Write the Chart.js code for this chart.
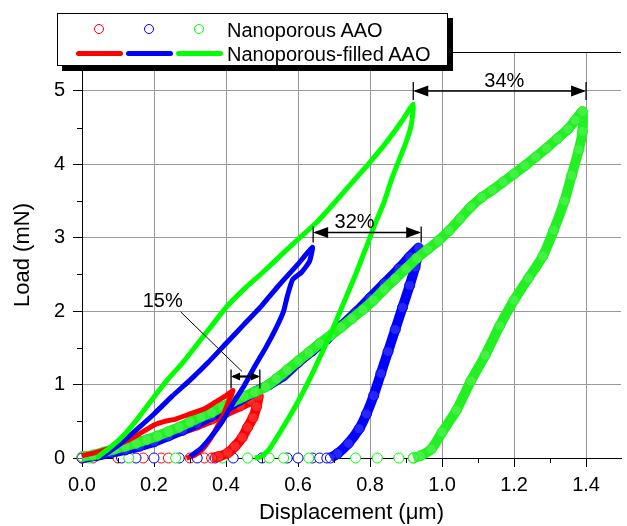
<!DOCTYPE html>
<html>
<head>
<meta charset="utf-8">
<script src="https://cdn.jsdelivr.net/npm/chart.js@4.4.0/dist/chart.umd.min.js"></script>
<style>
body{margin:0;background:#fff;font-family:"Liberation Sans",Arial,sans-serif;}
#wrap{position:relative;width:627px;height:526px;}
#legend{position:absolute;left:57px;top:13px;width:389px;height:51px;border:1.5px solid #000;background:#fff;box-shadow:5px 5px 0 #000;}
.dot{position:absolute;top:10px;width:8px;height:8px;border:1px solid;border-radius:50%;}
.seg{position:absolute;top:37px;height:5px;width:47px;border-radius:3px;}
.lt{position:absolute;left:169px;font-size:20px;line-height:24px;color:#000;white-space:nowrap;}
</style>
</head>
<body>
<div id="wrap">
<canvas id="LoadChart"></canvas>
<div id="legend">
	<div class="dot" style="left:36px;border-color:#f00"></div>
	<div class="dot" style="left:86px;border-color:#00f"></div>
	<div class="dot" style="left:136px;border-color:#0f0"></div>
	<div class="lt" style="top:4px">Nanoporous AAO</div>
	<div class="seg" style="left:18px;background:#f00"></div>
	<div class="seg" style="left:68px;background:#00f"></div>
	<div class="seg" style="left:118px;background:#0f0"></div>
	<div class="lt" style="top:28px">Nanoporous-filled AAO</div>
</div>
</div>
<script>
// axis ticks
var xTicks = [0.0,0.2,0.4,0.6,0.8,1.0,1.2,1.4];
var xMinor = [0.1,0.3,0.5,0.7,0.9,1.1,1.3];
var yTicks = [0,1,2,3,4,5];
var yMinor = [0.5,1.5,2.5,3.5,4.5];

// Nanoporous-filled AAO (solid lines), [displacement um, load mN]
var filledRed = [[0.0,0.03],[0.05,0.09],[0.1,0.18],[0.15,0.3],[0.2,0.45],[0.23,0.5],[0.26,0.53],[0.3,0.6],[0.34,0.67],[0.37,0.76],[0.4,0.85],[0.42,0.92],
	[0.41,0.8],[0.395,0.62],[0.375,0.42],[0.355,0.25],[0.335,0.12],[0.31,0.03],[0.29,0.0]];
var filledBlue = [[0.05,0.0],[0.1,0.17],[0.15,0.38],[0.2,0.6],[0.25,0.84],[0.3,1.06],[0.35,1.3],[0.4,1.56],[0.45,1.82],[0.5,2.08],[0.55,2.37],[0.6,2.64],[0.64,2.87],
	[0.632,2.68],[0.61,2.53],[0.585,2.43],[0.57,2.2],[0.56,2.0],[0.54,1.78],[0.51,1.5],[0.48,1.25],[0.45,0.98],[0.42,0.75],[0.39,0.5],[0.36,0.3],[0.33,0.13],[0.3,0.02]];
var filledGreen = [[0.04,0.0],[0.08,0.15],[0.12,0.33],[0.16,0.57],[0.2,0.83],[0.24,1.08],[0.28,1.3],[0.32,1.55],[0.36,1.8],[0.4,2.05],[0.45,2.3],[0.5,2.52],[0.55,2.75],[0.6,2.98],[0.65,3.2],[0.7,3.47],[0.75,3.75],[0.8,4.03],[0.85,4.33],[0.89,4.6],[0.92,4.82],
	[0.915,4.55],[0.9,4.3],[0.88,4.05],[0.86,3.8],[0.84,3.5],[0.815,3.2],[0.79,2.88],[0.76,2.5],[0.73,2.15],[0.7,1.8],[0.67,1.47],[0.63,1.05],[0.59,0.68],[0.55,0.35],[0.52,0.12],[0.5,0.02],[0.48,0.0]];

// Nanoporous AAO (open circles)
var poreRed = [[0.0,0.0],[0.04,0.04],[0.08,0.1],[0.12,0.16],[0.16,0.22],[0.2,0.27],[0.24,0.32],[0.28,0.38],[0.32,0.45],[0.36,0.53],[0.4,0.62],[0.44,0.71],[0.47,0.78],[0.49,0.84],
	[0.485,0.7],[0.475,0.55],[0.46,0.42],[0.445,0.28],[0.425,0.16],[0.405,0.07],[0.38,0.02],[0.36,0.0]];
var poreBlue = [[0.0,0.0],[0.04,0.03],[0.08,0.07],[0.12,0.11],[0.16,0.16],[0.2,0.22],[0.24,0.3],[0.28,0.38],[0.32,0.47],[0.36,0.57],[0.4,0.68],[0.44,0.79],[0.48,0.9],[0.52,1.0],[0.56,1.12],[0.6,1.3],[0.64,1.46],[0.68,1.62],[0.72,1.8],[0.76,1.98],[0.8,2.18],[0.84,2.38],[0.88,2.58],[0.91,2.74],[0.935,2.86],
	[0.925,2.6],[0.91,2.35],[0.89,2.05],[0.87,1.75],[0.85,1.45],[0.83,1.15],[0.81,0.85],[0.79,0.6],[0.77,0.4],[0.74,0.2],[0.71,0.06],[0.69,0.0]];
var poreGreen = [[0.0,0.02],[0.03,0.04],[0.06,0.08],[0.09,0.12],[0.12,0.16],[0.15,0.2],[0.18,0.25],[0.21,0.3],[0.24,0.36],[0.27,0.42],[0.3,0.49],[0.33,0.56],[0.36,0.62],[0.39,0.7],[0.42,0.77],[0.45,0.84],[0.48,0.9],[0.51,0.97],[0.54,1.08],[0.57,1.2],[0.6,1.32],[0.63,1.44],[0.66,1.56],[0.69,1.67],[0.72,1.78],[0.75,1.9],[0.78,2.02],[0.81,2.15],[0.84,2.3],[0.87,2.44],[0.9,2.58],[0.93,2.72],[0.96,2.84],[0.99,2.96],[1.02,3.1],[1.05,3.26],[1.08,3.42],[1.11,3.55],[1.14,3.65],[1.17,3.76],[1.2,3.87],[1.23,3.98],[1.26,4.1],[1.29,4.22],[1.32,4.35],[1.35,4.48],[1.37,4.6],[1.39,4.72],
	[1.39,4.45],[1.38,4.2],[1.36,3.85],[1.34,3.5],[1.31,3.1],[1.28,2.75],[1.24,2.45],[1.2,2.15],[1.16,1.8],[1.12,1.4],[1.08,1.05],[1.04,0.65],[1.0,0.35],[0.97,0.12],[0.94,0.03],[0.92,0.0]];

// circles lying on the zero-load line
var baseRed = [0.03,0.1,0.17,0.22,0.24,0.3,0.34];
var baseBlue = [0.11,0.15,0.2,0.27,0.32,0.37,0.42,0.5,0.57,0.6,0.64,0.66,0.68];
var baseGreen = [0.02,0.13,0.26,0.39,0.46,0.52,0.56,0.63,0.76,0.82,0.88,0.92];

// percentage spans
var spanText = ['15%','32%','34%'];
var spanFrom = [0.414,0.642,0.92];
var spanTo = [0.494,0.942,1.40];
var spanLoad = [1.11,3.07,5.0];


function pts(arr){ return arr.map(p => ({x:p[0], y:p[1]})); }
function basePts(arr){ return arr.map(v => ({x:v, y:0})); }

function lineSet(name, arr, col, ord){
	return {label:name, data:pts(arr), showLine:true, borderColor:col, borderWidth:5, tension:0.15,
		pointRadius:0, order:ord, clip:false};
}
function bandSet(name, arr, col, ord){
	return {label:name, data:pts(arr), showLine:true, borderColor:col, borderWidth:10, tension:0.2,
		pointRadius:5, pointBorderWidth:1, pointBorderColor:col, pointBackgroundColor:'rgba(255,255,255,0.15)', order:ord, clip:false};
}
function baseSet(name, arr, col, ord){
	return {label:name, data:basePts(arr), showLine:false, pointRadius:5, pointBorderWidth:1,
		pointBorderColor:col, pointBackgroundColor:'#fff', order:ord, clip:false};
}

function spanArrow(ctx, x1, x2, y, head, half, up, down, lw){
	ctx.lineWidth = lw;
	ctx.beginPath(); ctx.moveTo(x1+2, y); ctx.lineTo(x2-2, y); ctx.stroke();
	ctx.lineWidth = 1.3;
	ctx.beginPath();
	ctx.moveTo(x1, y-up); ctx.lineTo(x1, y+down);
	ctx.moveTo(x2, y-up); ctx.lineTo(x2, y+down);
	ctx.stroke();
	ctx.beginPath();
	ctx.moveTo(x1, y); ctx.lineTo(x1+head, y-half); ctx.lineTo(x1+head, y+half); ctx.closePath();
	ctx.moveTo(x2, y); ctx.lineTo(x2-head, y-half); ctx.lineTo(x2-head, y+half); ctx.closePath();
	ctx.fill();
}

var extras = {
	id: 'extras',
	afterDraw: function(chart){
		var ctx = chart.ctx, xs = chart.scales.x, ys = chart.scales.y, a = chart.chartArea;
		ctx.save();
		ctx.strokeStyle = '#000'; ctx.fillStyle = '#000'; ctx.lineWidth = 1;
		ctx.beginPath();
		ctx.moveTo(a.left, a.top+0.5); ctx.lineTo(a.right, a.top+0.5);
		for(let v of xMinor){ let px = Math.round(xs.getPixelForValue(v))+0.5; ctx.moveTo(px, a.bottom); ctx.lineTo(px, a.bottom+5); }
		for(let v of yMinor){ let py = Math.round(ys.getPixelForValue(v))+0.5; ctx.moveTo(a.left, py); ctx.lineTo(a.left-5, py); }
		ctx.stroke();

		// span arrows
		var sizes = [[9,4,7,12,2.2],[15,5.5,6,10,1.5],[15,5.5,9,9,1.5]];
		for(let i=0; i<3; i++){
			let s = sizes[i];
			spanArrow(ctx, xs.getPixelForValue(spanFrom[i]), xs.getPixelForValue(spanTo[i]), ys.getPixelForValue(spanLoad[i]), s[0], s[1], s[2], s[3], s[4]);
		}
		// leader for 15%
		ctx.lineWidth = 1;
		ctx.beginPath();
		ctx.moveTo(xs.getPixelForValue(0.274), ys.getPixelForValue(1.99));
		ctx.lineTo(xs.getPixelForValue(0.444), ys.getPixelForValue(1.18));
		ctx.stroke();

		ctx.font = '20px "Liberation Sans", Arial, sans-serif';
		ctx.textAlign = 'center'; ctx.textBaseline = 'middle';
		ctx.fillText(spanText[0], xs.getPixelForValue(0.224), ys.getPixelForValue(2.13));
		ctx.fillText(spanText[1], xs.getPixelForValue(0.757), ys.getPixelForValue(3.21));
		ctx.fillText(spanText[2], xs.getPixelForValue(1.173), ys.getPixelForValue(5.13));
		ctx.restore();
	}
};

var tickFont = {family:'"Liberation Sans", Arial, sans-serif', size:20};
var titleFont = {family:'"Liberation Sans", Arial, sans-serif', size:22};

new Chart(document.getElementById('LoadChart'), {
	type: 'scatter',
	data: {
		datasets: [
			lineSet('Nanoporous-filled AAO', filledGreen, '#00ff00', 1),
			lineSet('Nanoporous-filled AAO', filledBlue, '#0000ff', 2),
			lineSet('Nanoporous-filled AAO', filledRed, '#ff0000', 3),
			bandSet('Nanoporous AAO', poreGreen, '#22f022', 4),
			bandSet('Nanoporous AAO', poreBlue, '#0000ff', 5),
			bandSet('Nanoporous AAO', poreRed, '#ff0000', 6),
			baseSet('Nanoporous AAO', baseGreen, '#00ff00', 7),
			baseSet('Nanoporous AAO', baseBlue, '#0000ff', 8),
			baseSet('Nanoporous AAO', baseRed, '#ff0000', 9)
		]
	},
	options: {
		responsive: true,
		maintainAspectRatio: false,
		animation: false,
		layout: {padding: {top: 52, right: 0, left: 0, bottom: 0}},
		plugins: {legend: {display: false}, tooltip: {enabled: false}},
		scales: {
			x: {
				type: 'linear', min: 0, max: 1.497,
				afterBuildTicks: function(s){ s.ticks = xTicks.map(v => ({value:v})); },
				afterFit: function(s){ s.height = 68; },
				ticks: {font: tickFont, color:'#000', padding: 6, maxRotation: 0, callback: v => v.toFixed(1)},
				grid: {color:'#999', tickColor:'#000', tickLength: 9},
				border: {color:'#000', width: 1},
				title: {display: true, text: 'Displacement (\u03bcm)', font: titleFont, color:'#000', padding: {top: 0, bottom: 0}}
			},
			y: {
				type: 'linear', min: 0, max: 5.53,
				afterBuildTicks: function(s){ s.ticks = yTicks.map(v => ({value:v})); },
				afterFit: function(s){ s.width = 82; },
				ticks: {font: tickFont, color:'#000', padding: 8, callback: v => String(v)},
				grid: {color:'#999', tickColor:'#000', tickLength: 9},
				border: {color:'#000', width: 1},
				title: {display: true, text: 'Load (mN)', font: titleFont, color:'#000', padding: {top: 10, bottom: 0}}
			}
		}
	},
	plugins: [extras]
});
</script>
</body>
</html>
